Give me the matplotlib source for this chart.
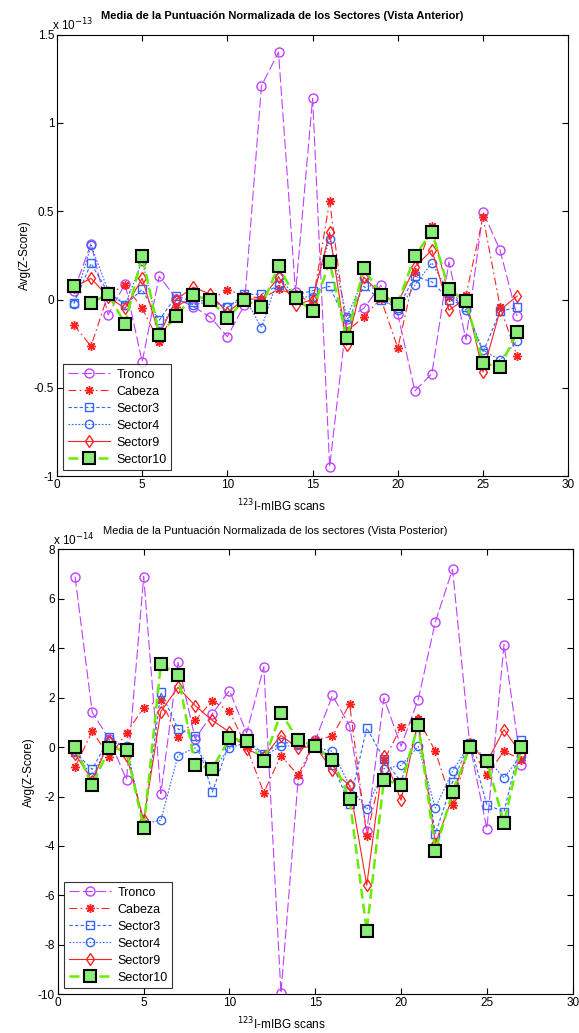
import numpy as np
from matplotlib import pyplot as plt

plt.rcParams['font.family'] = ['Liberation Sans', 'DejaVu Sans']

scans = np.arange(1, 28)

# Vista Anterior (x 1e-13)
ant_tronco = [0.05, 0.317, -0.087, 0.09, -0.353, 0.132, 0.005, -0.04, -0.10, -0.21, -0.03, 1.21, 1.40, 0.04,
              1.138, -0.947, -0.11, -0.05, 0.08, -0.083, -0.517, -0.419, 0.213, -0.226, 0.496, 0.279, -0.094]
ant_cabeza = [-0.145, -0.264, 0.03, 0.08, -0.05, -0.24, -0.04, 0.015, 0.0, 0.053, 0.025, 0.005, 0.057, 0.03,
              -0.02, 0.557, -0.18, -0.10, 0.005, -0.274, 0.153, 0.417, 0.015, 0.025, 0.468, -0.04, -0.32]
ant_sector3 = [-0.02, 0.204, 0.04, -0.03, 0.057, -0.117, 0.02, -0.013, 0.0, -0.045, 0.03, 0.03, 0.08, 0.025,
               0.05, 0.075, -0.136, 0.075, 0.0, -0.05, 0.132, 0.10, 0.0, -0.04, -0.30, -0.066, -0.045]
ant_sector4 = [-0.023, 0.307, 0.05, -0.03, 0.22, -0.18, 0.0, -0.03, -0.01, -0.045, 0.015, -0.16, 0.13, 0.015,
               0.015, 0.345, -0.10, 0.12, 0.015, -0.06, 0.08, 0.208, 0.04, -0.06, -0.287, -0.343, -0.234]
ant_sector9 = [0.07, 0.12, 0.015, -0.05, 0.12, -0.20, 0.0, 0.07, 0.03, -0.075, 0.005, 0.0, 0.128, -0.03,
               0.0, 0.38, -0.26, 0.128, 0.03, -0.02, 0.185, 0.28, -0.06, 0.005, -0.41, -0.06, 0.02]
ant_sector10 = [0.077, -0.017, 0.03, -0.136, 0.247, -0.20, -0.094, 0.025, -0.004, -0.104, -0.004, -0.04, 0.19, 0.01,
                -0.066, 0.213, -0.22, 0.18, 0.025, -0.023, 0.247, 0.383, 0.057, -0.01, -0.36, -0.38, -0.183]

# Vista Posterior (x 1e-14)
pos_tronco = [6.9, 1.41, 0.31, -1.32, 6.9, -1.88, 3.43, 0.34, 1.35, 2.29, 0.57, 3.26, -9.96, -1.32,
              0.27, 2.09, 0.87, -3.4, 1.99, 0.04, 1.92, 5.07, 7.2, 0.13, -3.3, 4.15, -0.74]
pos_cabeza = [-0.81, 0.65, -0.40, 0.58, 1.59, 1.92, 0.40, 1.08, 1.88, 1.45, 0.0, -1.84, -0.34, -1.14,
              0.3, 0.44, 1.75, -3.6, -0.54, 0.81, 1.14, -0.17, -2.33, 0.07, -1.12, -0.17, -0.5]
pos_sector3 = [-0.2, -0.9, 0.4, -0.07, -3.16, 2.22, 0.74, 0.44, -1.82, 0.2, 0.27, -0.27, 0.2, 0.13,
               0.04, -0.71, -2.29, 0.78, -0.47, -1.41, 0.87, -3.5, -1.41, 0.17, -2.33, -2.62, 0.27]
pos_sector4 = [-0.17, -1.21, 0.23, 0.04, -3.1, -2.96, -0.34, -0.03, -0.94, -0.04, 0.2, -0.34, 0.03, 0.07,
               0.0, -0.17, -1.55, -2.52, -0.87, -0.74, 0.03, -2.46, -0.97, 0.13, -0.47, -1.24, -0.34]
pos_sector9 = [-0.27, -1.35, 0.23, -0.34, -2.96, 1.44, 2.42, 1.68, 1.08, 0.61, -0.07, -0.4, 0.47, -0.04,
               0.04, -0.94, -1.55, -5.59, -0.34, -2.15, 1.08, -3.9, -2.02, 0.13, -0.6, 0.71, -0.27]
pos_sector10 = [0.0, -1.55, -0.03, -0.13, -3.27, 3.36, 2.92, -0.71, -0.87, 0.36, 0.24, -0.58, 1.39, 0.3,
                0.04, -0.51, -2.09, -7.44, -1.32, -1.52, 0.9, -4.19, -1.82, -0.01, -0.58, -3.06, -0.01]

names = ['Tronco', 'Cabeza', 'Sector3', 'Sector4', 'Sector9', 'Sector10']

purple = '#BF40FF'
red = '#FF2020'
blue = '#3366FF'
green = '#66EE00'

styles = [
    dict(color=purple, ls=(0, (9, 3)), marker='o', mfc='none', ms=6.5, lw=0.8),
    dict(color=red, ls=(0, (7, 3, 1.5, 3)), marker=(8, 2, 0), ms=6.5, lw=0.8, mew=1.0),
    dict(color=blue, ls=(0, (3, 2)), marker='s', mfc='none', ms=6, lw=0.8),
    dict(color=blue, ls=(0, (1.5, 1.5)), marker='o', mfc='none', ms=6, lw=0.8),
    dict(color=red, ls='-', marker='d', mfc='none', ms=6.5, lw=0.8),
    dict(color=green, ls=(0, (4, 2)), marker='s', mfc='#88EE77', mec='black', mew=1.5, ms=8, lw=1.8),
]

fig = plt.figure(figsize=(5.79, 10.33), dpi=100)
ax1 = fig.add_axes([0.0984, 0.539, 0.883, 0.4276])
ax2 = fig.add_axes([0.100, 0.0375, 0.889, 0.4306])

panels = [
    (ax1, [ant_tronco, ant_cabeza, ant_sector3, ant_sector4, ant_sector9, ant_sector10],
     (-1, 1.5), np.arange(-1, 1.51, 0.5), ['-1', '-0.5', '0', '0.5', '1', '1.5'], '-13',
     'Media de la Puntuación Normalizada de los Sectores (Vista Anterior)', 'bold', 0.44, 0.44),
    (ax2, [pos_tronco, pos_cabeza, pos_sector3, pos_sector4, pos_sector9, pos_sector10],
     (-10, 8), np.arange(-10, 9, 2), [str(v) for v in range(-10, 9, 2)], '-14',
     'Media de la Puntuación Normalizada de los sectores (Vista Posterior)', 'normal', 0.422, 0.435),
]

for ax, series, ylim, yticks, ylabels, exp, title, weight, tx, lx in panels:
    for name, vals, st in zip(names, series, styles):
        ax.plot(scans, vals, label=name, **st)
    ax.set_xlim(0, 30)
    ax.set_ylim(*ylim)
    ax.set_xticks(range(0, 31, 5))
    ax.set_yticks(yticks)
    ax.set_yticklabels(ylabels)
    ax.tick_params(direction='in', top=True, right=True, labelsize=8.5, length=4, pad=2)
    ax.set_xlabel(r'$^{123}$I-mIBG scans', fontsize=8.5, labelpad=5, x=lx)
    ax.set_ylabel('Avg(Z-Score)', fontsize=8.5, labelpad=2)
    ax.set_title(title, fontsize=8, fontweight=weight, pad=11, x=tx)
    ax.text(-0.01, 1.003, r'x 10$^{%s}$' % exp, transform=ax.transAxes, fontsize=8.5,
            ha='left', va='bottom')
    leg = ax.legend(loc='lower left', fontsize=9, frameon=True, fancybox=False,
                    edgecolor='black', borderaxespad=0.5, handlelength=3.4,
                    labelspacing=0.4, borderpad=0.35, handletextpad=0.5)
    leg.get_frame().set_linewidth(0.8)

plt.savefig('out.png', dpi=100)
